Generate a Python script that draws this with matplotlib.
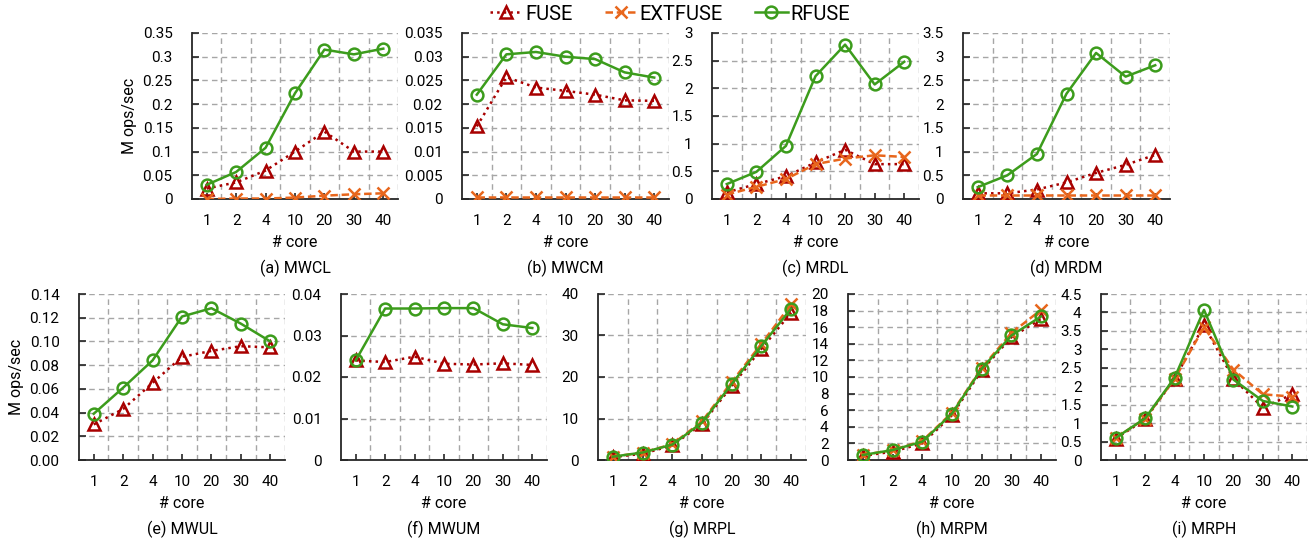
import matplotlib
matplotlib.use("Agg")
import matplotlib.pyplot as plt
from matplotlib.ticker import FixedLocator, FuncFormatter, MultipleLocator
from matplotlib.lines import Line2D

plt.rcParams['font.family'] = ['Roboto', 'DejaVu Sans']

cores = ["1", "2", "4", "10", "20", "30", "40"]

# (a) MWCL
mwcl_fuse = [0.022, 0.035, 0.060, 0.100, 0.142, 0.100, 0.100]
mwcl_ext = [0.000, 0.001, 0.001, 0.003, 0.007, 0.010, 0.012]
mwcl_rfuse = [0.030, 0.057, 0.108, 0.223, 0.315, 0.305, 0.317]
# (b) MWCM
mwcm_fuse = [0.0153, 0.0257, 0.0235, 0.0228, 0.0220, 0.0208, 0.0207]
mwcm_ext = [0.0005, 0.0005, 0.0005, 0.0005, 0.0005, 0.0005, 0.0005]
mwcm_rfuse = [0.0220, 0.0305, 0.0310, 0.0300, 0.0295, 0.0267, 0.0256]
# (c) MRDL
mrdl_fuse = [0.12, 0.27, 0.41, 0.66, 0.89, 0.63, 0.63]
mrdl_ext = [0.08, 0.22, 0.36, 0.63, 0.73, 0.79, 0.76]
mrdl_rfuse = [0.27, 0.49, 0.96, 2.22, 2.79, 2.07, 2.48]
# (d) MRDM
mrdm_fuse = [0.12, 0.12, 0.20, 0.35, 0.55, 0.72, 0.93]
mrdm_ext = [0.08, 0.08, 0.08, 0.08, 0.08, 0.08, 0.08]
mrdm_rfuse = [0.25, 0.50, 0.95, 2.22, 3.08, 2.58, 2.82]
# (e) MWUL
mwul_fuse = [0.030, 0.043, 0.065, 0.087, 0.092, 0.096, 0.095]
mwul_rfuse = [0.039, 0.061, 0.084, 0.121, 0.128, 0.115, 0.100]
# (f) MWUM
mwum_fuse = [0.0240, 0.0236, 0.0249, 0.0232, 0.0230, 0.0233, 0.0229]
mwum_rfuse = [0.0240, 0.0365, 0.0365, 0.0366, 0.0366, 0.0327, 0.0318]
# (g) MRPL
mrpl_fuse = [0.7, 1.5, 3.5, 8.7, 17.8, 26.8, 35.5]
mrpl_ext = [0.8, 1.8, 3.8, 9.3, 18.8, 28.0, 37.5]
mrpl_rfuse = [0.8, 1.8, 3.7, 9.0, 18.3, 27.5, 36.5]
# (h) MRPM
mrpm_fuse = [0.5, 1.0, 2.0, 5.4, 10.8, 14.8, 17.0]
mrpm_ext = [0.6, 1.2, 2.3, 5.7, 11.1, 15.3, 18.1]
mrpm_rfuse = [0.6, 1.2, 2.2, 5.6, 11.0, 15.0, 17.3]
# (i) MRPH
mrph_fuse = [0.58, 1.10, 2.20, 3.65, 2.20, 1.42, 1.78]
mrph_ext = [0.60, 1.12, 2.20, 3.60, 2.45, 1.78, 1.72]
mrph_rfuse = [0.60, 1.13, 2.23, 4.07, 2.18, 1.60, 1.45]

panels = [
    ("(a) MWCL", mwcl_fuse, mwcl_ext, mwcl_rfuse, 0.35, 0.05, "%g"),
    ("(b) MWCM", mwcm_fuse, mwcm_ext, mwcm_rfuse, 0.035, 0.005, "%g"),
    ("(c) MRDL", mrdl_fuse, mrdl_ext, mrdl_rfuse, 3.0, 0.5, "%g"),
    ("(d) MRDM", mrdm_fuse, mrdm_ext, mrdm_rfuse, 3.5, 0.5, "%g"),
    ("(e) MWUL", mwul_fuse, None, mwul_rfuse, 0.14, 0.02, "%.2f"),
    ("(f) MWUM", mwum_fuse, None, mwum_rfuse, 0.04, 0.01, "%g"),
    ("(g) MRPL", mrpl_fuse, mrpl_ext, mrpl_rfuse, 40, 10, "%g"),
    ("(h) MRPM", mrpm_fuse, mrpm_ext, mrpm_rfuse, 20, 2, "%g"),
    ("(i) MRPH", mrph_fuse, mrph_ext, mrph_rfuse, 4.5, 0.5, "%g"),
]

W, H = 1313, 544
# axes boxes in pixels: (left, right)
top_lr = [(192, 398), (462, 669), (712, 919), (963, 1170)]
bot_lr = [(79, 285), (341, 547), (598, 806), (848, 1056), (1101, 1307)]
top_tb = (33, 199)
bot_tb = (294, 460)

C_FUSE = '#A80000'
C_EXT = '#E8661C'
C_RF = '#3C9C1C'

fig = plt.figure(figsize=(W / 100, H / 100), dpi=100)

boxes = [(l, r, top_tb) for l, r in top_lr] + [(l, r, bot_tb) for l, r in bot_lr]

x = list(range(len(cores)))
for i, (title, fuse, ext, rf, ymax, ystep, fmt) in enumerate(panels):
    l, r, (t, b) = boxes[i]
    ax = fig.add_axes([l / W, 1 - b / H, (r - l) / W, (b - t) / H])
    ax.plot(x, fuse, linestyle=':', color=C_FUSE, lw=1.8, marker='^', ms=9,
            mfc='none', mec=C_FUSE, mew=1.8, zorder=3)
    if ext is not None:
        ax.plot(x, ext, linestyle='--', color=C_EXT, lw=1.8, marker='x', ms=9,
                mec=C_EXT, mew=1.8, zorder=4, dashes=(3, 1.5))
    ax.plot(x, rf, linestyle='-', color=C_RF, lw=1.8, marker='o', ms=8.5,
            mfc='none', mec=C_RF, mew=1.8, zorder=5)
    ax.set_xlim(-0.5, len(cores) - 0.5)
    ax.set_ylim(0, ymax)
    ax.set_xticks(x)
    ax.set_xticklabels(cores)
    ax.xaxis.set_minor_locator(FixedLocator([k + 0.5 for k in range(len(cores))]))
    ax.yaxis.set_major_locator(MultipleLocator(ystep))
    ax.yaxis.set_major_formatter(FuncFormatter(lambda v, p, f=fmt: f % v))
    ax.grid(False)
    ax.grid(True, which='minor', axis='x', color='#A6A6A6', linestyle=(0, (4, 3)), lw=1.0)
    ax.grid(True, which='major', axis='y', color='#A6A6A6', linestyle=(0, (4, 3)), lw=1.0)
    for s in ('top', 'right'):
        ax.spines[s].set_visible(False)
    for s in ('left', 'bottom'):
        ax.spines[s].set_color('#262626')
        ax.spines[s].set_linewidth(1.3)
    ax.tick_params(axis='x', which='major', direction='in', length=4, width=1.2,
                   pad=11, labelsize=11, color='#262626')
    ax.tick_params(axis='x', which='minor', length=0)
    ax.tick_params(axis='y', direction='in', length=5, width=1.2, pad=14,
                   labelsize=11, color='#262626')
    ax.set_xlabel("# core", fontsize=11.5, labelpad=5)
    if i in (0, 4):
        ax.set_ylabel("M ops/sec", fontsize=11.5, labelpad=4)
    ax.annotate(title, xy=(0.5, 0), xycoords='axes fraction', xytext=(0, -50),
                textcoords='offset points', ha='center', va='center', fontsize=11.5)

handles = [
    Line2D([], [], linestyle=':', color=C_FUSE, lw=1.8, marker='^', ms=9,
           mfc='none', mec=C_FUSE, mew=1.8),
    Line2D([], [], linestyle='--', color=C_EXT, lw=1.8, marker='x', ms=9,
           mec=C_EXT, mew=1.8, dashes=(3, 1.5)),
    Line2D([], [], linestyle='-', color=C_RF, lw=1.8, marker='o', ms=8.5,
           mfc='none', mec=C_RF, mew=1.8),
]
fig.legend(handles, ["FUSE", "EXTFUSE", "RFUSE"], loc='center',
           bbox_to_anchor=(670 / W, 1 - 14 / H), ncol=3, frameon=False,
           fontsize=14.5, handlelength=1.6, handletextpad=0.15, columnspacing=1.6)

fig.savefig("out.png", dpi=100)
